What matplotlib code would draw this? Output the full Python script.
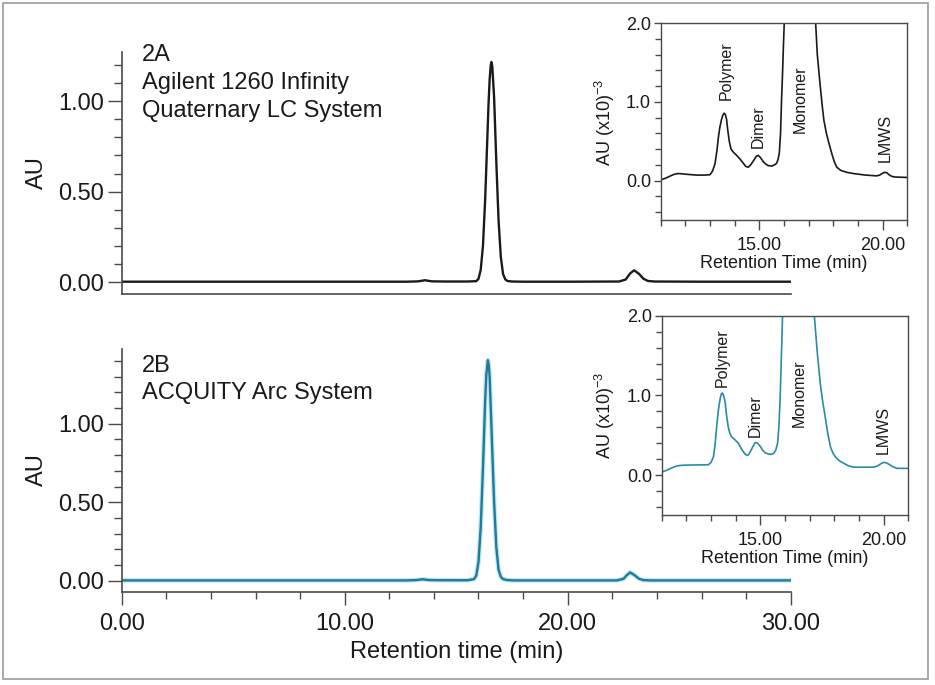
import matplotlib
matplotlib.use("Agg")
import matplotlib.pyplot as plt
from matplotlib.patches import Rectangle
from matplotlib.ticker import MultipleLocator, FixedLocator

plt.rcParams['font.family'] = ['Liberation Sans', 'DejaVu Sans']
plt.rcParams['mathtext.fontset'] = 'custom'
plt.rcParams['mathtext.rm'] = 'Liberation Sans'
plt.rcParams['mathtext.it'] = 'Liberation Sans'

# ---------------- data ----------------
# Panel 2A main chromatogram (time in min, AU)
a_time = [0.0, 12.8, 13.3, 13.6, 13.9, 14.5, 15.5, 15.9, 16.0, 16.1, 16.2, 16.3,
          16.4, 16.45, 16.5, 16.55, 16.58, 16.62, 16.7, 16.8, 16.9, 17.0, 17.1, 17.2,
          17.3, 17.5, 18.0, 20.0, 22.3, 22.6, 22.8, 22.98, 23.2, 23.4, 23.6, 23.9,
          26.0, 30.0]
a_au = [0.002, 0.002, 0.004, 0.010, 0.004, 0.003, 0.003, 0.005, 0.018, 0.068, 0.20, 0.46,
        0.81, 0.985, 1.12, 1.20, 1.217, 1.19, 1.02, 0.66, 0.34, 0.14, 0.045, 0.015,
        0.006, 0.003, 0.002, 0.002, 0.003, 0.014, 0.048, 0.065, 0.045, 0.018, 0.006, 0.003,
        0.002, 0.002]

# Panel 2B main chromatogram
b_time = [0.0, 12.8, 13.2, 13.5, 13.8, 14.5, 15.5, 15.8, 15.9, 16.0, 16.1, 16.2, 16.3,
          16.35, 16.42, 16.46, 16.5, 16.6, 16.7, 16.8, 16.9, 17.0, 17.1, 17.3, 17.6,
          18.0, 20.0, 22.2, 22.5, 22.65, 22.8, 23.0, 23.2, 23.4, 23.7, 26.0, 30.0]
b_au = [0.002, 0.002, 0.004, 0.009, 0.004, 0.003, 0.003, 0.010, 0.033, 0.12, 0.34, 0.72, 1.15,
        1.31, 1.405, 1.375, 1.30, 0.90, 0.50, 0.21, 0.07, 0.025, 0.010, 0.004, 0.002,
        0.002, 0.002, 0.002, 0.012, 0.035, 0.053, 0.035, 0.012, 0.004, 0.002, 0.002, 0.002]

# Inset 2A (time in min, AU x 1e-3)
ia_time = [11.0, 11.2, 11.4, 11.55, 11.71, 11.9, 12.05, 12.46, 12.8, 13.0, 13.1, 13.2,
           13.28, 13.34, 13.4, 13.47, 13.52, 13.57, 13.62, 13.67, 13.72, 13.78, 13.85,
           13.95, 14.08, 14.2, 14.35, 14.45, 14.55, 14.65, 14.78, 14.88, 14.96, 15.05,
           15.16, 15.26, 15.36, 15.5, 15.62, 15.7, 15.76, 15.81, 15.86, 15.9, 15.94,
           15.97, 16.01, 16.58, 17.285, 17.35, 17.46, 17.55, 17.62, 17.72, 17.8, 17.87,
           17.96, 18.05, 18.14, 18.3, 18.54, 18.81, 19.3, 19.76, 19.88, 19.98, 20.08,
           20.16, 20.26, 20.36, 20.5, 21.0]
ia_au = [0.01, 0.03, 0.06, 0.08, 0.09, 0.085, 0.08, 0.07, 0.07, 0.075, 0.12, 0.21,
         0.38, 0.55, 0.68, 0.78, 0.83, 0.855, 0.84, 0.78, 0.64, 0.50, 0.40,
         0.36, 0.32, 0.28, 0.22, 0.18, 0.17, 0.20, 0.26, 0.31, 0.32, 0.29,
         0.24, 0.21, 0.19, 0.185, 0.20, 0.22, 0.27, 0.35, 0.60, 1.02, 1.35,
         1.65, 2.0, 1217.0, 1.99, 1.60, 1.23, 0.95, 0.76, 0.60, 0.50, 0.42,
         0.32, 0.23, 0.17, 0.13, 0.105, 0.09, 0.07, 0.06, 0.07, 0.09, 0.105,
         0.10, 0.075, 0.055, 0.045, 0.04]

# Inset 2B
ib_time = [11.0, 11.2, 11.4, 11.61, 11.8, 12.01, 12.89, 13.0, 13.1, 13.17, 13.23, 13.3,
           13.37, 13.42, 13.46, 13.51, 13.57, 13.63, 13.7, 13.77, 13.84, 13.95, 14.11,
           14.25, 14.38, 14.45, 14.52, 14.62, 14.7, 14.78, 14.83, 14.9, 15.0, 15.1,
           15.2, 15.33, 15.45, 15.53, 15.62, 15.7, 15.75, 15.8, 15.85, 15.9, 16.42,
           17.19, 17.3, 17.43, 17.53, 17.63, 17.73, 17.84, 17.94, 18.04, 18.2, 18.38,
           18.55, 18.78, 19.59, 19.75, 19.9, 20.0, 20.1, 20.2, 20.35, 20.54, 21.0]
ib_au = [0.04, 0.06, 0.09, 0.115, 0.123, 0.126, 0.13, 0.16, 0.23, 0.40, 0.61, 0.82,
         0.96, 1.02, 1.03, 1.00, 0.92, 0.75, 0.60, 0.52, 0.48, 0.45, 0.40,
         0.32, 0.265, 0.25, 0.255, 0.31, 0.36, 0.405, 0.41, 0.395, 0.36, 0.31,
         0.28, 0.265, 0.262, 0.27, 0.31, 0.40, 0.60, 0.94, 1.45, 1.99, 1405.0,
         2.0, 1.57, 1.15, 0.92, 0.73, 0.53, 0.36, 0.28, 0.23, 0.18, 0.15,
         0.12, 0.10, 0.10, 0.115, 0.145, 0.16, 0.155, 0.14, 0.11, 0.085, 0.085]

peak_names = ["Polymer", "Dimer", "Monomer", "LMWS"]
ia_label_t = [13.65, 14.95, 16.65, 20.1]
ia_label_y = [1.02, 0.41, 0.61, 0.23]
ib_label_t = [13.45, 14.8, 16.58, 20.0]
ib_label_y = [1.11, 0.48, 0.60, 0.26]

main_xticks = [0, 10, 20, 30]
main_xticklabels = ["0.00", "10.00", "20.00", "30.00"]
main_yticks = [0.0, 0.5, 1.0]
main_yticklabels = ["0.00", "0.50", "1.00"]
inset_xticks = [15, 20]
inset_xticklabels = ["15.00", "20.00"]
inset_yticks = [0.0, 1.0, 2.0]
inset_yticklabels = ["0.0", "1.0", "2.0"]

BLACK = "#1a1a1a"
TEAL = "#1f7c9b"
TEAL_I = "#2a8aa7"
SPINE = "#4a4a4a"

W, H = 935, 685
fig = plt.figure(figsize=(W / 100, H / 100), dpi=100)

def fx(px):
    return px / W

def fy(py):
    return 1 - py / H

# outer frame
fig.patches.append(Rectangle((fx(3), fy(679)), fx(925), (676) / H, transform=fig.transFigure,
                             fill=False, edgecolor="#a3a3a3", linewidth=1.3))

def style_main(ax, ylim, show_x):
    ax.set_xlim(0, 30)
    ax.set_ylim(*ylim)
    for s in ["top", "right"]:
        ax.spines[s].set_visible(False)
    for s in ["left", "bottom"]:
        ax.spines[s].set_color(SPINE)
        ax.spines[s].set_linewidth(1.2)
    ax.set_yticks(main_yticks)
    ax.set_yticklabels(main_yticklabels)
    ax.yaxis.set_minor_locator(MultipleLocator(0.1))
    ax.tick_params(axis="y", which="major", length=10, width=1, color=SPINE,
                   labelsize=17, pad=3, labelcolor="#1a1a1a")
    ax.tick_params(axis="y", which="minor", length=6, width=1, color=SPINE)
    if show_x:
        ax.set_xticks(main_xticks)
        ax.set_xticklabels(main_xticklabels)
        ax.xaxis.set_minor_locator(MultipleLocator(2))
        ax.tick_params(axis="x", which="major", length=9, width=1, color=SPINE,
                       labelsize=17, pad=6, labelcolor="#1a1a1a")
        ax.tick_params(axis="x", which="minor", length=5, width=1, color=SPINE)
    else:
        ax.set_xticks([])
        ax.xaxis.set_minor_locator(FixedLocator([]))

def style_inset(ax):
    ax.set_xlim(11, 21)
    ax.set_ylim(-0.5, 2.0)
    for s in ax.spines.values():
        s.set_color(SPINE)
        s.set_linewidth(1.0)
    ax.set_xticks(inset_xticks)
    ax.set_xticklabels(inset_xticklabels)
    ax.xaxis.set_minor_locator(MultipleLocator(1))
    ax.set_yticks(inset_yticks)
    ax.set_yticklabels(inset_yticklabels)
    ax.yaxis.set_minor_locator(MultipleLocator(0.2))
    ax.tick_params(axis="x", which="major", length=7, width=1, color=SPINE,
                   labelsize=13, pad=5, labelcolor="#1a1a1a")
    ax.tick_params(axis="x", which="minor", length=4, width=1, color=SPINE)
    ax.tick_params(axis="y", which="major", length=5, width=1, color=SPINE,
                   labelsize=13, pad=2, labelcolor="#1a1a1a")
    ax.tick_params(axis="y", which="minor", length=4, width=1, color=SPINE)
    ax.set_xlabel("Retention Time (min)", fontsize=13, labelpad=1, color="#1a1a1a")

# ---------------- top main panel ----------------
ax_a = fig.add_axes([fx(121.7), fy(294), fx(669), 242 / H])
ax_a.plot(a_time, a_au, color=BLACK, lw=1.7, solid_joinstyle="round")
style_main(ax_a, (-0.066, 1.272), show_x=False)

# ---------------- bottom main panel ----------------
ax_b = fig.add_axes([fx(121.7), fy(591.7), fx(669), 242.7 / H])
ax_b.plot(b_time, b_au, color="#a9dcec", lw=3.4, alpha=0.7, solid_joinstyle="round")
ax_b.plot(b_time, b_au, color=TEAL, lw=1.7, solid_joinstyle="round")
style_main(ax_b, (-0.070, 1.476), show_x=True)
ax_b.set_xlabel("Retention time (min)", fontsize=17, labelpad=5, color="#1a1a1a")

# AU labels
fig.text(fx(37), fy(173), "AU", rotation=90, fontsize=17, ha="center", va="center", color="#1a1a1a")
fig.text(fx(37), fy(470), "AU", rotation=90, fontsize=17, ha="center", va="center", color="#1a1a1a")

# panel annotations
fig.text(fx(141.7), fy(61), "2A", fontsize=17, va="baseline", color="#1a1a1a")
fig.text(fx(141.7), fy(89), "Agilent 1260 Infinity", fontsize=17, va="baseline", color="#1a1a1a")
fig.text(fx(141.7), fy(117), "Quaternary LC System", fontsize=17, va="baseline", color="#1a1a1a")
fig.text(fx(141.7), fy(371.7), "2B", fontsize=17, va="baseline", color="#1a1a1a")
fig.text(fx(141.7), fy(399.3), "ACQUITY Arc System", fontsize=17, va="baseline", color="#1a1a1a")

# ---------------- insets ----------------
ins_a = fig.add_axes([fx(660.7), fy(220), fx(246.6), 197 / H])
ins_a.plot(ia_time, ia_au, color=BLACK, lw=1.2, solid_joinstyle="round")
style_inset(ins_a)
for name, t, y in zip(peak_names, ia_label_t, ia_label_y):
    ins_a.text(t, y, name, rotation=90, ha="center", va="bottom", fontsize=11.5, color="#1a1a1a")

ins_b = fig.add_axes([fx(661.7), fy(515), fx(246.6), 199.3 / H])
ins_b.plot(ib_time, ib_au, color=TEAL_I, lw=1.2, solid_joinstyle="round")
style_inset(ins_b)
for name, t, y in zip(peak_names, ib_label_t, ib_label_y):
    ins_b.text(t, y, name, rotation=90, ha="center", va="bottom", fontsize=11.5, color="#1a1a1a")

fig.text(fx(605), fy(122), "AU (x10)$^{-3}$", rotation=90, fontsize=13, ha="center", va="center", color="#1a1a1a")
fig.text(fx(605), fy(415), "AU (x10)$^{-3}$", rotation=90, fontsize=13, ha="center", va="center", color="#1a1a1a")

fig.savefig("out.png", dpi=100, facecolor="white")
